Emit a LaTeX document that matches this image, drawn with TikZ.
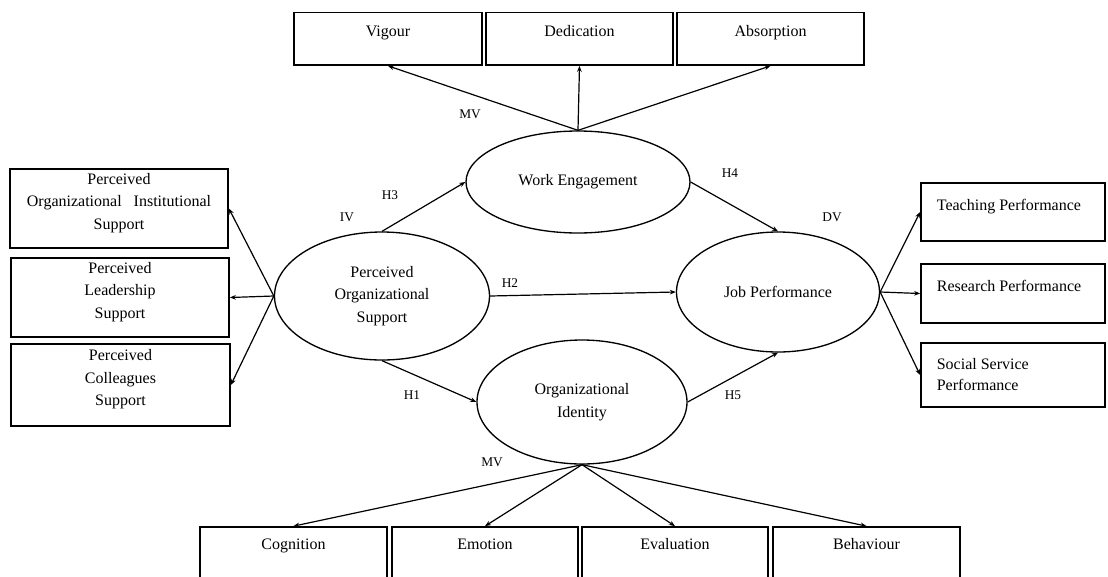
\documentclass[tikz,border=0pt]{standalone}
\usepackage{fontspec}
\setmainfont{Liberation Serif}
\usetikzlibrary{shapes.geometric, arrows.meta, fit}

\begin{document}
\begin{tikzpicture}[x=0.75pt, y=-0.75pt, font=\fontsize{12}{17}\selectfont,
  oval/.style={ellipse, draw, line width=1pt, align=center, inner sep=0pt},
  box/.style={draw, line width=1.3pt, inner sep=0pt, align=center},
  link/.style={-{Stealth[length=4.5pt, width=3.5pt]}, line width=0.9pt},
  hyp/.style={font=\fontsize{10}{12}\selectfont}]
\useasboundingbox (0,0) rectangle (1108,576);

% latent variables
\node[oval, minimum width=168pt, minimum height=76.5pt] (we) at (578,182) {Work Engagement};
\node[oval, minimum width=161.25pt, minimum height=96pt] (pos) at (382,296) {Perceived\\Organizational\\Support};
\node[oval, minimum width=152.25pt, minimum height=90pt] (jp) at (778,292) {Job Performance};
\node[oval, minimum width=157.5pt, minimum height=93pt] (oi) at (582,402) {Organizational\\Identity};

% indicators of work engagement
\foreach \name/\xa/\xb/\txt in {vig/294/482/Vigour, ded/486/673/Dedication, abs/677/864/Absorption} {
  \node[box, fit={(\xa,12.5) (\xb,65)}, label={[anchor=base, yshift=-18.4pt]north:\txt}] (\name) {};
}
% indicators of organizational identity
\foreach \name/\xa/\xb/\txt in {cog/200/387/Cognition, emo/392/578/Emotion, eva/582/768/Evaluation, beh/773/960/Behaviour} {
  \node[box, fit={(\xa,527) (\xb,600)}, label={[anchor=base, yshift=-17.25pt]north:\txt}] (\name) {};
}
% indicators of perceived support
\node[box, fit={(10,169) (228,248)}] (inst) {Perceived\\Organizational~~~Institutional\\Support};
\node[box, fit={(11,258) (229,337)}] (lead) {Perceived\\Leadership\\Support};
\node[box, fit={(11,344) (230,426)}] (coll) {Perceived\\Colleagues\\Support};
% indicators of job performance
\foreach \name/\ya/\yb/\txt in {teach/183/241/Teaching Performance, res/264/323/Research Performance, soc/343/407/{Social Service\\Performance}} {
  \node[box, fit={(921,\ya) (1105,\yb)}, label={[anchor=north west, align=left, xshift=9pt, yshift=-9pt, font=\fontsize{12}{15.75}\selectfont]north west:\txt}] (\name) {};
}

% measurement arrows
\foreach \t in {vig, ded, abs} \draw[link] (we.north) -- (\t.south);
\foreach \t in {cog, emo, eva, beh} \draw[link] (oi.south) -- (\t.north);
\foreach \t in {inst, lead, coll} \draw[link] (pos.west) -- (\t.east);
\foreach \t in {teach, res, soc} \draw[link] (jp.east) -- (\t.west);

% hypotheses
\draw[link] (pos.north) -- (we.west);
\draw[link] (pos.east) -- (jp.west);
\draw[link] (pos.south) -- (oi.west);
\draw[link] (we.east) -- (jp.north);
\draw[link] (oi.east) -- (jp.south);

\node[hyp] (iv) at (347,217) {IV};
\node[hyp] (h3) at (390,195) {H3};
\node[hyp] (h2) at (510,283) {H2};
\node[hyp] (h1) at (412,395) {H1};
\node[hyp] (h4) at (730,173) {H4};
\node[hyp] (dv) at (832,217) {DV};
\node[hyp] (h5) at (733,395) {H5};
\node[hyp] (mvtop) at (470,114) {MV};
\node[hyp] (mvbot) at (492,462) {MV};
\end{tikzpicture}
\end{document}
